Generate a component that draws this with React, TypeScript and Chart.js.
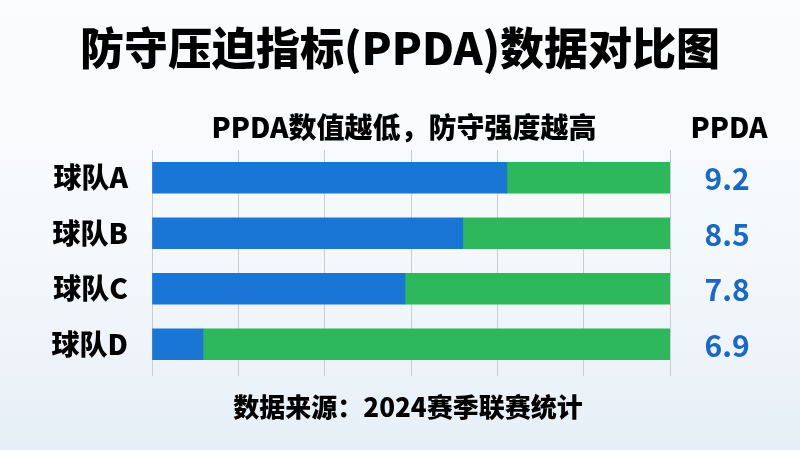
import React, { useEffect, useRef } from 'react';
import { Chart, registerables } from 'chart.js';

Chart.register(...registerables);

// 数据
const teams = ['球队A', '球队B', '球队C', '球队D'];
const ppdaValues = [9.2, 8.5, 7.8, 6.9];
const blueShare = [4.11, 3.6, 2.93, 0.59];
const greenShare = [1.89, 2.4, 3.07, 5.41];
const axisMax = 6;

const titleText = '防守压迫指标(PPDA)数据对比图';
const subtitleText = 'PPDA数值越低，防守强度越高';
const valueHeader = 'PPDA';
const sourceText = '数据来源：2024赛季联赛统计';

const FONT = '"Noto Sans CJK SC", "Noto Sans", sans-serif';
const BLUE = '#1976d6';
const GREEN = '#2db85c';
const VALUE_BLUE = '#1668c9';

const textPlugin = {
  id: 'ppdaText',
  afterDraw(chart: any) {
    const ctx = chart.ctx;
    const yScale = chart.scales.y;
    ctx.save();
    ctx.fillStyle = '#000';
    ctx.textBaseline = 'middle';
    ctx.textAlign = 'center';

    ctx.font = `900 44px ${FONT}`;
    ctx.fillText(titleText, 400, 48);

    ctx.font = `900 28px ${FONT}`;
    ctx.fillText(subtitleText, 404, 127);
    ctx.fillText(valueHeader, 729, 127);
    ctx.font = `900 26px ${FONT}`;
    ctx.fillText(sourceText, 408, 407);

    ctx.fillStyle = VALUE_BLUE;
    ctx.font = `bold 30px ${FONT}`;
    ppdaValues.forEach((v, i) => {
      ctx.fillText(v.toFixed(1), 727, yScale.getPixelForValue(i) + 1);
    });
    ctx.restore();
  },
};

const App: React.FC = () => {
  const canvasRef = useRef<HTMLCanvasElement>(null);
  const chartRef = useRef<Chart | null>(null);

  useEffect(() => {
    document.body.style.margin = '0';
    if (!canvasRef.current) return;
    const ctx = canvasRef.current.getContext('2d');
    if (!ctx) return;

    chartRef.current = new Chart(ctx, {
      type: 'bar',
      data: {
        labels: teams,
        datasets: [
          {
            label: 'blue',
            data: blueShare,
            backgroundColor: BLUE,
            barThickness: 31,
          },
          {
            label: 'green',
            data: greenShare,
            backgroundColor: GREEN,
            barThickness: 31,
          },
        ],
      },
      options: {
        indexAxis: 'y',
        animation: false,
        responsive: true,
        maintainAspectRatio: false,
        layout: {
          padding: { top: 150, right: 130, bottom: 74, left: 0 },
        },
        plugins: {
          legend: { display: false },
          tooltip: { enabled: false },
        },
        scales: {
          x: {
            stacked: true,
            min: 0,
            max: axisMax,
            ticks: { display: false, stepSize: 1 },
            grid: { color: '#c9cdd2', lineWidth: 1, tickLength: 4 },
            border: { display: false },
          },
          y: {
            stacked: true,
            grid: { display: false },
            border: { display: false },
            ticks: {
              color: '#000',
              font: { family: FONT, size: 28, weight: '900' },
              padding: 16,
            },
            afterFit: (scale: any) => {
              scale.width = 152;
            },
          },
        },
      },
      plugins: [textPlugin],
    });

    return () => {
      chartRef.current?.destroy();
      chartRef.current = null;
    };
  }, []);

  return (
    <div
      style={{
        position: 'fixed',
        left: 0,
        top: 0,
        width: 800,
        height: 450,
        background: 'linear-gradient(180deg, #fbfcfd 0%, #f5f8fb 55%, #e6eff7 100%)',
      }}
    >
      <canvas ref={canvasRef}></canvas>
    </div>
  );
};

export default App;
